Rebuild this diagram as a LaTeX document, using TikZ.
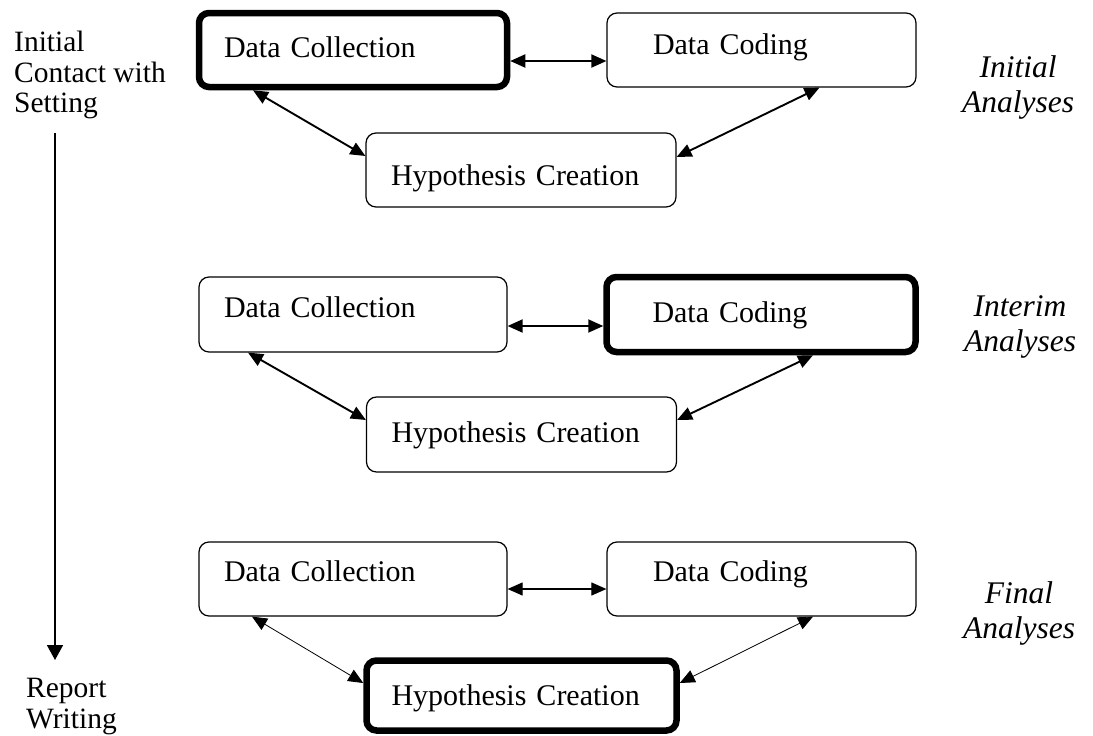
\documentclass[tikz,border=0pt]{standalone}
\usepackage{fontspec}
\setmainfont{Liberation Serif}
\usetikzlibrary{arrows.meta}
\begin{document}
\begin{tikzpicture}[x=1pt,y=-1pt,
  box/.style={draw, rounded corners=10pt, line width=1.2pt, inner ysep=0pt,
    align=left, text depth=8pt, font=\fontsize{30}{34}\selectfont},
  dcbox/.style={box, minimum height=74pt, inner xsep=25pt, text width=258pt},
  dcodbox/.style={box, minimum height=74pt, inner xsep=46pt, text width=217pt},
  hypbox/.style={box, minimum height=74pt, inner xsep=25pt, text width=260pt},
  heavy/.style={line width=6.5pt},
  conn/.style={{Triangle[length=15pt,width=13pt]}-{Triangle[length=15pt,width=13pt]}, line width=1.9pt},
  thinconn/.style={{Triangle[length=15pt,width=13pt]}-{Triangle[length=15pt,width=13pt]}, line width=0.8pt},
  sidelabel/.style={inner sep=0pt, align=left, font=\fontsize{29.5}{30.5}\selectfont},
  phaselabel/.style={inner sep=0pt, align=center, font=\fontsize{31.5}{34.5}\selectfont\itshape}
]
\useasboundingbox (0,0) rectangle (1093,736);

% ---- top: initial analyses
\node[dcbox, heavy, text height=22pt] (dc1) at (353,50) {Data Collection};
\node[dcodbox, text height=16pt] (dcod1) at (761.5,50) {Data Coding};
\node[hypbox, text height=38pt] (h1) at (521,170) {Hypothesis Creation};
\draw[conn] ([yshift=-11pt]dc1.east) -- ([yshift=-11pt]dcod1.west);
\draw[conn] ([xshift=-100pt]dc1.south) -- ([yshift=14pt]h1.west);
\draw[conn] ([xshift=58pt]dcod1.south) -- ([yshift=13pt]h1.east);

% ---- middle: interim analyses
\node[dcbox, minimum height=75pt, text height=13pt] (dc2) at (353,314.5) {Data Collection};
\node[dcodbox, heavy, minimum height=75pt, text height=23pt] (dcod2) at (761,314.5) {Data Coding};
\node[hypbox, minimum height=75pt, text height=23pt] (h2) at (521.5,434.5) {Hypothesis Creation};
\draw[conn] ([yshift=-11.5pt]dc2.east) -- ([yshift=-11.5pt]dcod2.west);
\draw[conn] ([xshift=-105pt]dc2.south) -- ([yshift=14.5pt]h2.west);
\draw[conn] ([xshift=52pt]dcod2.south) -- ([yshift=14.5pt]h2.east);

% ---- bottom: final analyses
\node[dcbox, text height=12pt] (dc3) at (353,579) {Data Collection};
\node[dcodbox, text height=12pt] (dcod3) at (761.5,579) {Data Coding};
\node[hypbox, heavy, minimum height=70pt, text height=27pt] (h3) at (521.5,695.5) {Hypothesis Creation};
\draw[thinconn, line width=1.1pt] ([yshift=-10pt]dc3.east) -- ([yshift=-10pt]dcod3.west);
\draw[thinconn] ([xshift=-101pt]dc3.south) -- ([yshift=12.5pt]h3.west);
\draw[thinconn] ([xshift=51.5pt]dcod3.south) -- ([yshift=12.5pt]h3.east);

% ---- phase labels
\node[phaselabel, anchor=north] (pl1) at (1018,55.5) {Initial\\Analyses};
\node[phaselabel, anchor=north] (pl2) at (1020,295.5) {Interim\\Analyses};
\node[phaselabel, anchor=north] (pl3) at (1019,581.5) {Final\\Analyses};

% ---- timeline
\node[sidelabel, anchor=north west] (start) at (14,31) {Initial\\Contact with\\Setting};
\node[sidelabel, anchor=north west] (report) at (26,678) {Report\\Writing};
\coordinate (tl0) at (55,133);
\coordinate (tl1) at (55,660);
\draw[line width=1.7pt, -{Triangle[length=15pt,width=16pt]}] (tl0) -- (tl1);
\end{tikzpicture}
\end{document}
